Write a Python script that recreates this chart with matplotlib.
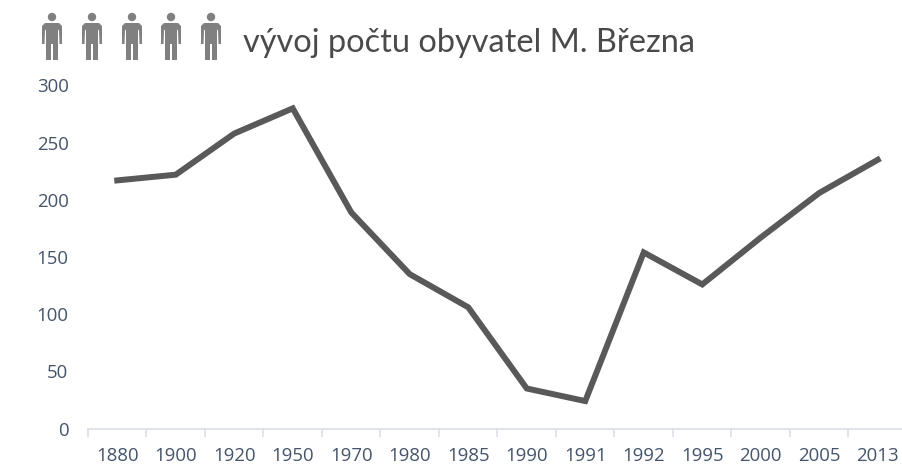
import matplotlib
matplotlib.use('Agg')
import matplotlib.pyplot as plt
from matplotlib.patches import Circle, Polygon

years = ['1880', '1900', '1920', '1950', '1970', '1980', '1985', '1990', '1991', '1992', '1995', '2000', '2005', '2013']
population = [217, 222, 258, 280, 189, 135, 106, 35, 24, 154, 126, 167, 206, 235]
y_ticks = [0, 50, 100, 150, 200, 250, 300]
title = 'vývoj počtu obyvatel M. Března'

W, H = 903, 466
plt.rcParams['font.family'] = ['Open Sans', 'DejaVu Sans']
fig = plt.figure(figsize=(W / 100, H / 100), dpi=100)

# osa jde kousek za pravy okraj obrazku, stejne jako v originale
left, right, top, bottom = 88, 907, 85.5, 428.5
ax = fig.add_axes([left / W, 1 - bottom / H, (right - left) / W, (bottom - top) / H])
ax.plot(range(len(years)), population, color='#595959', linewidth=4.3, solid_joinstyle='miter', clip_on=False)
ax.set_xlim(-0.5, len(years) - 0.5)
ax.set_ylim(0, 300)
ax.set_yticks(y_ticks)
ax.set_xticks(range(len(years)))
ax.set_xticklabels(years)
ax.set_xticks([i - 0.5 for i in range(len(years) + 1)], minor=True)
for s in ['top', 'left', 'right']:
    ax.spines[s].set_visible(False)
ax.spines['bottom'].set_color('#D9DFE8')
ax.spines['bottom'].set_linewidth(1.2)
ax.tick_params(axis='y', length=0, pad=14, labelsize=13.4, labelcolor='#44546A')
ax.tick_params(axis='x', which='major', length=0, pad=13.5, labelsize=13.4, labelcolor='#44546A')
ax.tick_params(axis='x', which='minor', length=6, width=1.2, color='#D9DFE8')

# panacci v zahlavi, kresleno v pixelech
ov = fig.add_axes([0, 0, 1, 1])
ov.set_xlim(0, W)
ov.set_ylim(H, 0)
ov.axis('off')
for cx in [52, 92, 132, 171, 211]:
    ov.add_patch(Circle((cx, 17), 4.2, color='#808080', lw=0))
    body = [(-10, 26), (-7, 23), (7, 23), (10, 26), (10, 44), (7.5, 44), (7, 30), (6, 30), (6, 60),
            (1, 60), (1, 44), (-1, 44), (-1, 60), (-6, 60), (-6, 30), (-7, 30), (-7.5, 44), (-10, 44)]
    ov.add_patch(Polygon([(cx + x, y) for x, y in body], closed=True, color='#808080', lw=0))

fig.text(243 / W, 1 - 43 / H, title, family=['Lato', 'DejaVu Sans'], fontsize=23.4, color='#4a4a4a', va='center', ha='left')

fig.savefig('out.png', dpi=100, facecolor='white')
